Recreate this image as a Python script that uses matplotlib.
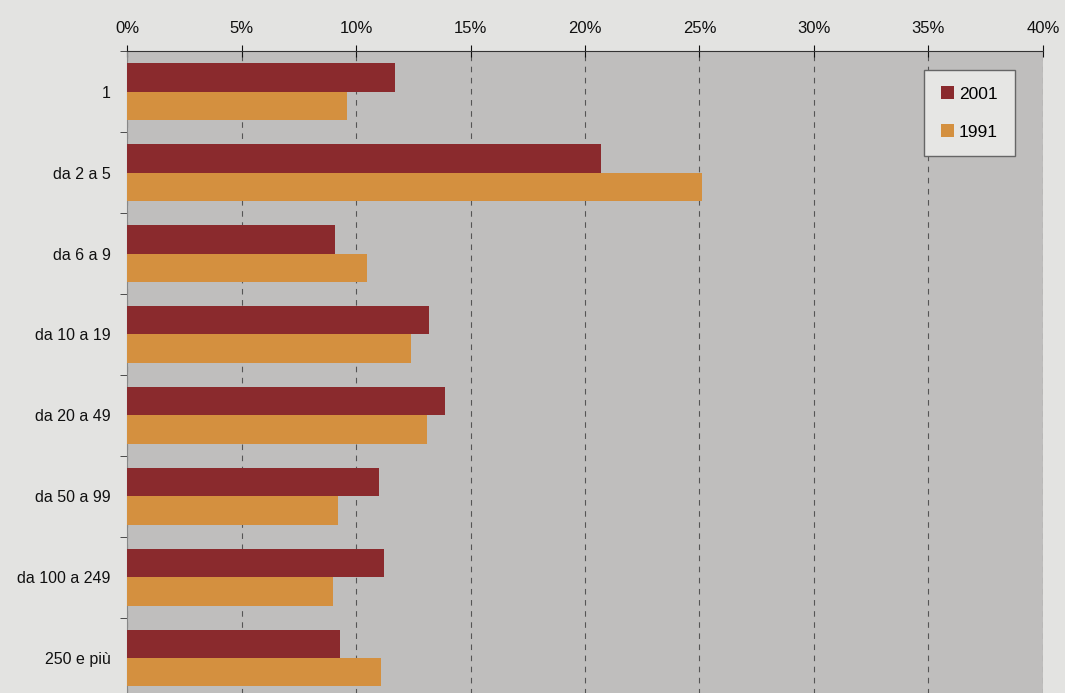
import numpy as np
import matplotlib
matplotlib.use('Agg')
import matplotlib.pyplot as plt
from matplotlib.ticker import FuncFormatter

categories = ['1', 'da 2 a 5', 'da 6 a 9', 'da 10 a 19', 'da 20 a 49',
              'da 50 a 99', 'da 100 a 249', '250 e più']
values_2001 = [11.7, 20.7, 9.1, 13.2, 13.9, 11.0, 11.2, 9.3]
values_1991 = [9.6, 25.1, 10.5, 12.4, 13.1, 9.2, 9.0, 11.1]
series_labels = ['2001', '1991']
x_ticks = [0, 5, 10, 15, 20, 25, 30, 35, 40]

plt.rcParams['font.family'] = ['Liberation Sans', 'DejaVu Sans']

fig = plt.figure(figsize=(10.65, 6.93), dpi=100)
fig.patch.set_facecolor('#e3e3e1')
ax = fig.add_axes([0.1193, -0.008, 0.86, 0.934])
ax.set_facecolor('#bfbebd')

y = np.arange(len(categories))
h = 0.35
ax.barh(y - h / 2, values_2001, height=h, color='#8a2a2d', label=series_labels[0], zorder=3)
ax.barh(y + h / 2, values_1991, height=h, color='#d4903f', label=series_labels[1], zorder=3)

ax.set_xlim(0, 40)
ax.set_ylim(len(categories) - 0.5, -0.5)
ax.xaxis.tick_top()
ax.set_xticks(x_ticks)
ax.xaxis.set_major_formatter(FuncFormatter(lambda v, p: f'{v:.0f}%'))
ax.tick_params(axis='x', direction='inout', length=8, pad=7, labelsize=12, colors='#111111')
ax.set_yticks(y)
ax.set_yticklabels(categories, fontsize=11.5, color='#111111')
ax.set_yticks(np.arange(len(categories) + 1) - 0.5, minor=True)
ax.tick_params(axis='y', which='major', length=0, pad=12)
ax.tick_params(axis='y', which='minor', length=5, direction='out', color='#333333')

ax.grid(axis='x', linestyle=(0, (5, 5)), color='#555555', linewidth=0.8, zorder=1)
for side in ['right', 'bottom']:
    ax.spines[side].set_visible(False)
ax.spines['top'].set_color('#333333')
ax.spines['left'].set_color('#888888')

leg = ax.legend(loc='upper right', bbox_to_anchor=(0.9785, 0.985), fontsize=12.5,
                frameon=True, fancybox=False, handlelength=0.75, handleheight=0.75,
                labelspacing=1.3, borderpad=0.95, handletextpad=0.3)
leg.get_frame().set_facecolor('#e6e6e4')
leg.get_frame().set_edgecolor('#666666')
leg.get_frame().set_alpha(1)

fig.savefig('out.png', dpi=100, facecolor=fig.get_facecolor())
